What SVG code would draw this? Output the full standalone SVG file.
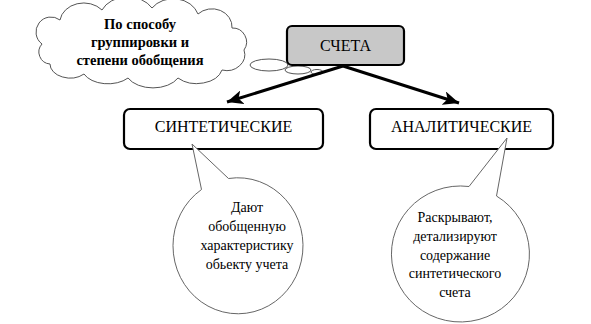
<svg xmlns="http://www.w3.org/2000/svg" width="591" height="324" viewBox="0 0 591 324">
<style>
.box{fill:#fff;stroke:#000;stroke-width:2.2}
.root{fill:#c8c8c8;stroke:#000;stroke-width:2.2}
text{font-family:"Liberation Serif","DejaVu Serif","Times New Roman",serif;text-anchor:middle;fill:#000}
.lbl{font-size:16px}
.call{fill:#fff;stroke:#666;stroke-width:1}
.ctxt{font-size:14px}
.cloud{fill:#fff;stroke:#555;stroke-width:1}
.btxt{font-size:14.5px;font-weight:bold}
.conn{stroke:#000;stroke-width:3;fill:none}
</style>
<defs>
<marker id="ah" markerUnits="userSpaceOnUse" markerWidth="18" markerHeight="14" refX="16" refY="7" orient="auto">
<path d="M0,0 L16,7 L0,14 L4,7 Z" fill="#000"/>
</marker>
</defs>
<g id="cloud">
<path class="cloud" d="M42,44 A14 14 0 0 1 60,20 A24 20 0 0 1 102,10 A28 22 0 0 1 152,8 A26 22 0 0 1 198,14 A20 18 0 0 1 232,28 A14 14 0 0 1 244,50 A18 16 0 0 1 222,70 A26 18 0 0 1 178,78 A28 18 0 0 1 128,78 A26 16 0 0 1 84,74 A20 14 0 0 1 50,64 A12 12 0 0 1 42,44 Z"/>
<ellipse class="cloud" cx="269" cy="65" rx="19" ry="6"/>
<ellipse class="cloud" cx="298" cy="70" rx="13" ry="4"/>
<ellipse class="cloud" cx="317" cy="72" rx="6" ry="2.5"/>
<text class="btxt" x="140" y="29">По способу</text>
<text class="btxt" x="140" y="47">группировки и</text>
<text class="btxt" x="140" y="65">степени обобщения</text>
</g>
<g id="node-scheta">
<rect class="root" x="287" y="26" width="117" height="39" rx="5"/>
<text class="lbl" x="345.5" y="51">СЧЕТА</text>
</g>
<g id="connectors">
<line class="conn" x1="343" y1="66" x2="227" y2="102" marker-end="url(#ah)"/>
<line class="conn" x1="343" y1="66" x2="459" y2="103" marker-end="url(#ah)"/>
</g>
<g id="node-synth">
<rect class="box" x="124" y="109" width="199" height="40" rx="6"/>
<text class="lbl" x="223.5" y="132">СИНТЕТИЧЕСКИЕ</text>
</g>
<g id="node-anal">
<rect class="box" x="370" y="109" width="183" height="40" rx="6"/>
<text class="lbl" x="461.5" y="132">АНАЛИТИЧЕСКИЕ</text>
</g>
<g id="callout-synth">
<path class="call" d="M228.5,178.5 A65 68 0 1 1 201.5,189.5 L192,144 Z"/>
<text class="ctxt" x="247" y="212">Дают</text>
<text class="ctxt" x="247" y="231">обобщенную</text>
<text class="ctxt" x="247" y="250">характеристику</text>
<text class="ctxt" x="247" y="269">обьекту учета</text>
</g>
<g id="callout-anal">
<path class="call" d="M496.5,196 A69 68 0 1 1 469,186.5 L507,138 Z"/>
<text class="ctxt" x="455" y="222">Раскрывают,</text>
<text class="ctxt" x="455" y="241">детализируют</text>
<text class="ctxt" x="455" y="260">содержание</text>
<text class="ctxt" x="455" y="278">синтетического</text>
<text class="ctxt" x="455" y="297">счета</text>
</g>
</svg>
